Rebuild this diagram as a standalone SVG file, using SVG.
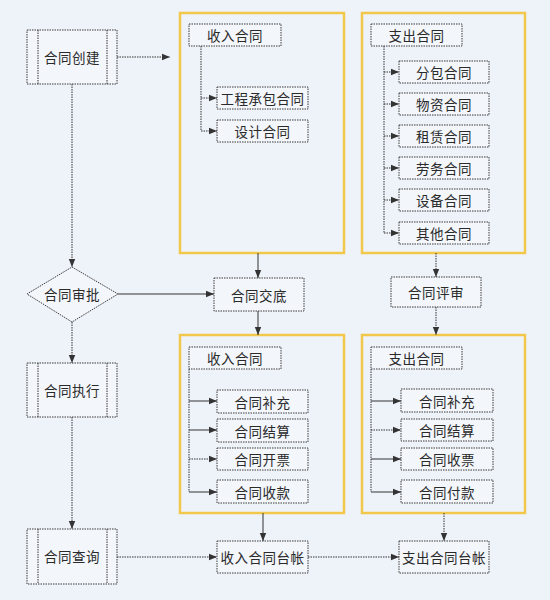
<svg xmlns="http://www.w3.org/2000/svg" width="550" height="600" viewBox="0 0 550 600">
<style>
.bx{fill:#f3f6fb;stroke:#3a3a3a;stroke-width:1;stroke-dasharray:1.5,1}
.fr{fill:none;stroke:#f2c84b;stroke-width:2.5}
.ln{fill:none;stroke:#333;stroke-width:1;stroke-dasharray:1.5,1}
.sl{fill:none;stroke:#333;stroke-width:1}
text{font-family:"Noto Sans CJK SC","Noto Sans",sans-serif;font-size:13.5px;fill:#2a2a2a;text-anchor:middle;dominant-baseline:central;letter-spacing:0.5px}
</style>
<defs>
<marker id="ar" viewBox="0 0 10 10" refX="10" refY="5" markerWidth="8" markerHeight="8" markerUnits="userSpaceOnUse" orient="auto">
<path d="M0,1 L10,5 L0,9 Z" fill="#333"/>
</marker>
</defs>
<rect width="550" height="600" fill="#eef3fa"/>

<g id="frames">
<rect class="fr" x="180" y="13" width="164" height="240"/>
<rect class="fr" x="362" y="13" width="163" height="240"/>
<rect class="fr" x="180" y="335" width="164" height="178"/>
<rect class="fr" x="362" y="335" width="163" height="178"/>
</g>

<g id="connectors">
<path class="ln" d="M117,57 H170" marker-end="url(#ar)"/>
<path class="ln" d="M72,84 V267" marker-end="url(#ar)"/>
<path class="ln" d="M72,322 V363" marker-end="url(#ar)"/>
<path class="ln" d="M72,417 V529" marker-end="url(#ar)"/>
<path class="sl" d="M118,294 H214" marker-end="url(#ar)"/>
<path class="sl" d="M258,253 V278" marker-end="url(#ar)"/>
<path class="sl" d="M258,311 V335" marker-end="url(#ar)"/>
<path class="ln" d="M436,253 V277" marker-end="url(#ar)"/>
<path class="ln" d="M436,307 V335" marker-end="url(#ar)"/>
<path class="sl" d="M263,513 V541" marker-end="url(#ar)"/>
<path class="ln" d="M444,513 V541" marker-end="url(#ar)"/>
<path class="ln" d="M117,557 H217" marker-end="url(#ar)"/>
<path class="ln" d="M308,557 H399" marker-end="url(#ar)"/>
<path class="ln" d="M201,46 V131"/>
<path class="ln" d="M201,98 H217" marker-end="url(#ar)"/>
<path class="ln" d="M201,131 H217" marker-end="url(#ar)"/>
<path class="ln" d="M384,46 V233"/>
<path class="ln" d="M384,72 H399" marker-end="url(#ar)"/>
<path class="ln" d="M384,104 H399" marker-end="url(#ar)"/>
<path class="ln" d="M384,136 H399" marker-end="url(#ar)"/>
<path class="ln" d="M384,168 H399" marker-end="url(#ar)"/>
<path class="ln" d="M384,200 H399" marker-end="url(#ar)"/>
<path class="ln" d="M384,233 H399" marker-end="url(#ar)"/>
<path class="ln" d="M189,369 V492"/>
<path class="sl" d="M189,401 H217" marker-end="url(#ar)"/>
<path class="sl" d="M189,430 H217" marker-end="url(#ar)"/>
<path class="ln" d="M189,459 H217" marker-end="url(#ar)"/>
<path class="sl" d="M189,492 H217" marker-end="url(#ar)"/>
<path class="ln" d="M371,369 V492"/>
<path class="sl" d="M371,401 H401" marker-end="url(#ar)"/>
<path class="ln" d="M371,430 H401" marker-end="url(#ar)"/>
<path class="sl" d="M371,459 H401" marker-end="url(#ar)"/>
<path class="sl" d="M371,492 H401" marker-end="url(#ar)"/>
</g>

<g id="create"><rect class="bx" x="27" y="30" width="90" height="54"/><path class="ln" d="M38,30 V84 M107,30 V84"/><text x="72" y="57">合同创建</text></g>
<g id="approve"><path class="bx" d="M72,267 L118,294 L72,322 L27,294 Z"/><text x="72" y="294">合同审批</text></g>
<g id="execute"><rect class="bx" x="27" y="363" width="90" height="54"/><path class="ln" d="M38,363 V417 M107,363 V417"/><text x="72" y="390">合同执行</text></g>
<g id="query"><rect class="bx" x="27" y="529" width="90" height="55"/><path class="ln" d="M38,529 V584 M107,529 V584"/><text x="72" y="556">合同查询</text></g>

<g id="in1"><rect class="bx" x="189" y="24" width="92" height="22"/><text x="235" y="35">收入合同</text></g>
<g id="in1a"><rect class="bx" x="217" y="87" width="91" height="22"/><text x="262.5" y="98">工程承包合同</text></g>
<g id="in1b"><rect class="bx" x="217" y="120" width="91" height="22"/><text x="262.5" y="131">设计合同</text></g>

<g id="out1"><rect class="bx" x="371" y="24" width="91" height="22"/><text x="416.5" y="35">支出合同</text></g>
<g id="out1a"><rect class="bx" x="399" y="61" width="90" height="22"/><text x="444" y="72">分包合同</text></g>
<g id="out1b"><rect class="bx" x="399" y="93" width="90" height="22"/><text x="444" y="104">物资合同</text></g>
<g id="out1c"><rect class="bx" x="399" y="125" width="90" height="22"/><text x="444" y="136">租赁合同</text></g>
<g id="out1d"><rect class="bx" x="399" y="157" width="90" height="22"/><text x="444" y="168">劳务合同</text></g>
<g id="out1e"><rect class="bx" x="399" y="189" width="90" height="22"/><text x="444" y="200">设备合同</text></g>
<g id="out1f"><rect class="bx" x="399" y="222" width="90" height="22"/><text x="444" y="233">其他合同</text></g>

<g id="handover"><rect class="bx" x="214" y="278" width="90" height="33"/><text x="259" y="294.5">合同交底</text></g>
<g id="review"><rect class="bx" x="391" y="277" width="90" height="30"/><text x="436" y="292">合同评审</text></g>

<g id="in2"><rect class="bx" x="189" y="347" width="92" height="22"/><text x="235" y="358">收入合同</text></g>
<g id="in2a"><rect class="bx" x="217" y="390" width="91" height="23"/><text x="262.5" y="401.5">合同补充</text></g>
<g id="in2b"><rect class="bx" x="217" y="419" width="91" height="23"/><text x="262.5" y="430.5">合同结算</text></g>
<g id="in2c"><rect class="bx" x="217" y="448" width="91" height="22"/><text x="262.5" y="459">合同开票</text></g>
<g id="in2d"><rect class="bx" x="217" y="480" width="91" height="23"/><text x="262.5" y="491.5">合同收款</text></g>

<g id="out2"><rect class="bx" x="371" y="347" width="91" height="22"/><text x="416.5" y="358">支出合同</text></g>
<g id="out2a"><rect class="bx" x="401" y="389" width="92" height="23"/><text x="447" y="400.5">合同补充</text></g>
<g id="out2b"><rect class="bx" x="401" y="419" width="92" height="22"/><text x="447" y="430">合同结算</text></g>
<g id="out2c"><rect class="bx" x="401" y="448" width="92" height="22"/><text x="447" y="459">合同收票</text></g>
<g id="out2d"><rect class="bx" x="401" y="480" width="92" height="23"/><text x="447" y="491.5">合同付款</text></g>

<g id="inledger"><rect class="bx" x="217" y="541" width="91" height="32"/><text x="262.5" y="557">收入合同台帐</text></g>
<g id="outledger"><rect class="bx" x="399" y="541" width="90" height="32"/><text x="444" y="557">支出合同台帐</text></g>
</svg>
